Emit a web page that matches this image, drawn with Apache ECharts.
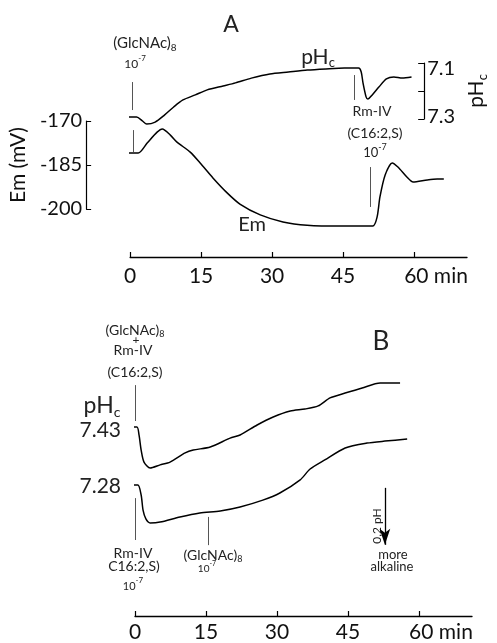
<!DOCTYPE html>
<html><head><meta charset="utf-8">
<script src="https://cdn.jsdelivr.net/npm/echarts@6/dist/echarts.min.js"></script>
<style>html,body{margin:0;padding:0;background:#fff}#c{width:497px;height:643px}</style>
</head><body><div id="c"></div>
<script>
// ---- data ----
const xTicks = [0, 15, 30, 45, 60];
const emTicks = [-200, -185, -170];
const phATicks = [7.1, 7.2, 7.3];

// Panel A: membrane potential Em (mV) vs time (min)
const emTime   = [-2.5, 1.7, 3.6, 5.7, 6.8, 8.5, 9.9, 12.7, 14.8, 17.5, 20.5, 23.2, 27.5, 32.3, 37.4, 44.4, 51.3, 52.2, 52.8, 53.9, 55.4, 56.6, 58.5, 59.8, 62.8, 64.9, 66.3];
const emValues = [-180.9, -180.9, -177.5, -173.8, -172.7, -174.8, -177.2, -180.6, -184.3, -189.4, -194.5, -198.3, -202.0, -204.4, -205.5, -205.8, -205.8, -202.7, -195.9, -188.4, -184.3, -185.7, -189.1, -190.8, -190.1, -189.8, -189.8];

// Panel A: cytoplasmic pH vs time
const phATime   = [-2.8, 1.5, 2.8, 3.8, 5.7, 7.8, 9.9, 12.0, 14.8, 17.5, 21.1, 23.9, 27.5, 31.7, 35.9, 40.2, 44.4, 48.6, 51.8, 52.4, 52.8, 53.5, 53.9, 54.9, 56.4, 58.1, 59.8, 61.7, 63.8];
const phAValues = [7.293, 7.293, 7.307, 7.318, 7.311, 7.286, 7.257, 7.232, 7.214, 7.196, 7.182, 7.171, 7.154, 7.139, 7.132, 7.125, 7.121, 7.118, 7.118, 7.132, 7.171, 7.221, 7.229, 7.214, 7.186, 7.157, 7.150, 7.154, 7.150];

// Panel B: upper trace (baseline 7.43)
const b1Time   = [-2.1, 0.4, 0.85, 1.3, 1.9, 3.2, 5.3, 7.4, 10.6, 12.3, 15.9, 20.1, 22.2, 25.8, 29.2, 32.8, 35.9, 38.7, 41.2, 44.4, 48.0, 51.8, 54.9, 56.0];
const b1Values = [7.430, 7.430, 7.458, 7.511, 7.553, 7.574, 7.563, 7.553, 7.521, 7.511, 7.500, 7.469, 7.458, 7.423, 7.395, 7.374, 7.367, 7.356, 7.328, 7.311, 7.293, 7.276, 7.276, 7.276];
const b1Base = 7.43;

// Panel B: lower trace (baseline 7.28)
const b2Time   = [-1.5, 0.6, 1.3, 1.7, 2.3, 3.2, 5.3, 9.5, 13.7, 18.0, 22.2, 27.0, 30.6, 34.9, 37.0, 40.1, 44.4, 49.0, 52.8, 57.5];
const b2Values = [7.280, 7.280, 7.315, 7.368, 7.399, 7.413, 7.410, 7.392, 7.378, 7.371, 7.357, 7.333, 7.308, 7.262, 7.224, 7.192, 7.150, 7.133, 7.126, 7.119];
const b2Base = 7.28;

// addition markers (time, value range in data units)
const aEmMarks = [[0.6, -173.1, -180.6], [50.8, -185.7, -199.3]];
const aPhMarks = [[0.6, 7.168, 7.268], [50.9, 7.143, 7.232]];
const b1Marks  = [[0, 7.283, 7.409]];
const b2Marks  = [[0, 7.326, 7.473], [15.4, 7.392, 7.491]];
const scaleBar = [52.8, 7.29, 7.49]; // 0.2 pH

// ---- layout ----
const FF = 'Lato, "Liberation Sans", sans-serif';
const FW = 'normal';
const X_MAX = 71.2;
const zip = (a, b) => a.map((v, i) => [v, b[i]]);
const marks = arr => arr.map(m => [{coord: [m[0], m[1]]}, {coord: [m[0], m[2]]}]);
const markStyle = {silent: true, symbol: ['none', 'none'], label: {show: false},
  lineStyle: {color: '#555', width: 1, type: 'solid'}, emphasis: {disabled: true}, data: []};

// B grid geometry: 0.2 pH = 57 px
const bTop = 370, bHeight = 246, pxPerPH = 285;
function bRange(base, baseY) {
  const mn = base - (baseY - bTop) / pxPerPH;
  return [mn, mn + bHeight / pxPerPH];
}
const r1 = bRange(b1Base, 427), r2 = bRange(b2Base, 485);

const xLabelFmt = v => v === 60 ? '{p| }60 min' : String(v);
function xAxisCfg(gridIndex, offset, margin) {
  return {
    type: 'value', gridIndex, min: 0, max: X_MAX, interval: 15, position: 'bottom', offset,
    axisLine: {show: true, onZero: false, lineStyle: {color: '#000', width: 1.3}},
    axisTick: {show: true, inside: true, length: 5, customValues: xTicks, lineStyle: {color: '#000', width: 1.2}},
    axisLabel: {customValues: xTicks, margin, fontSize: 21, fontFamily: FF, fontWeight: FW, color: '#111',
      formatter: xLabelFmt, rich: {p: {width: 44, fontSize: 21}}},
    splitLine: {show: false}
  };
}

const txt = (x, y, text, size, extra) => Object.assign({type: 'text', x, y, silent: true,
  style: Object.assign({text, fontSize: size, fontFamily: FF, fontWeight: FW, fill: '#222', align: 'center', verticalAlign: 'middle'}, extra && extra.style || {})},
  extra && extra.el || {});

const subRich = (a, b) => ({a: {fontSize: a, lineHeight: a + 4, fontFamily: FF, fontWeight: FW}, s: {fontSize: b, lineHeight: b, verticalAlign: 'bottom', fontFamily: FF, fontWeight: FW}});
const supRich = (a, b) => ({a: {fontSize: a, lineHeight: a + 4, fontFamily: FF, fontWeight: FW, verticalAlign: 'bottom'}, s: {fontSize: b, lineHeight: b, verticalAlign: 'top', fontFamily: FF, fontWeight: FW}});

const graphics = [
  txt(231, 25, 'A', 23),
  txt(145, 43, '{a|(GlcNAc)}{s|8}', 15, {style: {rich: subRich(15, 10)}}),
  txt(135, 62, '{a|10}{s|-7}', 12, {style: {rich: supRich(12, 8)}}),
  txt(318, 57, '{a|pH}{s|c}', 20, {style: {rich: subRich(21, 13)}}),
  txt(372, 111, 'Rm-IV', 14),
  txt(375, 133, '(C16:2,S)', 14),
  txt(375, 151, '{a|10}{s|-7}', 13, {style: {rich: supRich(13, 9)}}),
  txt(252, 225, 'Em', 20),
  txt(381, 342, 'B', 26),
  txt(135, 330, '{a|(GlcNAc)}{s|8}', 14, {style: {rich: subRich(14, 9)}}),
  txt(136, 340, '+', 12),
  txt(133, 350, 'Rm-IV', 14),
  txt(135, 372, '(C16:2,S)', 14),
  txt(102, 406, '{a|pH}{s|c}', 22, {style: {rich: subRich(23, 14)}}),
  txt(121, 430, String(b1Base), 21, {style: {align: 'right'}}),
  txt(121, 486, String(b2Base), 21, {style: {align: 'right'}}),
  txt(133, 553, 'Rm-IV', 14),
  txt(134, 566, 'C16:2,S)', 14),
  txt(133, 584, '{a|10}{s|-7}', 11, {style: {rich: supRich(11, 8)}}),
  txt(213, 555, '{a|(GlcNAc)}{s|8}', 14, {style: {rich: subRich(14, 9)}}),
  txt(207, 567, '{a|10}{s|-7}', 10, {style: {rich: supRich(10, 7)}}),
  txt(377, 526, '0,2 pH', 12, {el: {rotation: Math.PI / 2}}),
  txt(393, 555, 'more', 13),
  txt(392, 567, 'alkaline', 13)
];

const traceLine = {color: '#000', width: 1.5};
const option = {
  animation: false,
  backgroundColor: '#fff',
  grid: [
    {left: 130, top: 121, width: 337, height: 88},
    {left: 130, top: 63, width: 337, height: 56},
    {left: 135, top: bTop, width: 337, height: bHeight}
  ],
  xAxis: [
    xAxisCfg(0, 48, 9),
    {type: 'value', gridIndex: 1, min: 0, max: X_MAX, show: false},
    xAxisCfg(2, 0, 6)
  ],
  yAxis: [
    {type: 'value', gridIndex: 0, min: emTicks[0], max: emTicks[2], interval: 15, offset: 44,
      axisLine: {show: true, onZero: false, lineStyle: {color: '#000', width: 1.2}},
      axisTick: {show: true, inside: true, length: 5, lineStyle: {color: '#000'}},
      axisLabel: {margin: 4, fontSize: 20, fontFamily: FF, fontWeight: FW, color: '#111'},
      splitLine: {show: false},
      name: 'Em (mV)', nameLocation: 'middle', nameRotate: 90, nameGap: 52,
      nameTextStyle: {fontSize: 21, fontFamily: FF, fontWeight: FW, color: '#111'}},
    {type: 'value', gridIndex: 1, position: 'right', inverse: true, min: phATicks[0], max: phATicks[2], interval: 0.1, offset: -20,
      axisLine: {show: true, onZero: false, lineStyle: {color: '#000', width: 1.2}},
      axisTick: {show: true, inside: true, length: 6, lineStyle: {color: '#000'}},
      axisLabel: {margin: 3, fontSize: 20, fontFamily: FF, fontWeight: FW, color: '#111',
        formatter: v => Math.abs(v - 7.1) < 1e-6 ? '{t|7.1}' : (Math.abs(v - 7.3) < 1e-6 ? '{b|7.3}' : ''),
        rich: {t: {fontSize: 20, padding: [12, 0, 0, 0], fontFamily: FF, fontWeight: FW},
               b: {fontSize: 20, padding: [0, 0, 4, 0], fontFamily: FF, fontWeight: FW}}},
      splitLine: {show: false},
      name: '{a|pH}{s|c}', nameLocation: 'middle', nameRotate: 90, nameGap: 33,
      nameTextStyle: {color: '#111', rich: subRich(21, 13)}},
    {type: 'value', gridIndex: 2, inverse: true, min: r1[0], max: r1[1], show: false},
    {type: 'value', gridIndex: 2, inverse: true, min: r2[0], max: r2[1], show: false}
  ],
  series: [
    {type: 'line', xAxisIndex: 0, yAxisIndex: 0, data: zip(emTime, emValues), showSymbol: false, symbol: 'none',
      smooth: 0.25, clip: false, lineStyle: traceLine,
      markLine: Object.assign({}, markStyle, {data: marks(aEmMarks)})},
    {type: 'line', xAxisIndex: 1, yAxisIndex: 1, data: zip(phATime, phAValues), showSymbol: false, symbol: 'none',
      smooth: 0.25, clip: false, lineStyle: traceLine,
      markLine: Object.assign({}, markStyle, {data: marks(aPhMarks)})},
    {type: 'line', xAxisIndex: 2, yAxisIndex: 2, data: zip(b1Time, b1Values), showSymbol: false, symbol: 'none',
      smooth: 0.25, clip: false, lineStyle: traceLine,
      markLine: Object.assign({}, markStyle, {data: marks(b1Marks)})},
    {type: 'line', xAxisIndex: 2, yAxisIndex: 3, data: zip(b2Time, b2Values), showSymbol: false, symbol: 'none',
      smooth: 0.25, clip: false, lineStyle: traceLine,
      markLine: Object.assign({}, markStyle, {data: marks(b2Marks)})},
    {type: 'line', xAxisIndex: 2, yAxisIndex: 3, data: [], showSymbol: false, symbol: 'none',
      markLine: {silent: true, symbol: ['none', 'arrow'], symbolSize: [8, 16], label: {show: false},
        lineStyle: {color: '#000', width: 1.3, type: 'solid'},
        data: [[{coord: [scaleBar[0], scaleBar[1]]}, {coord: [scaleBar[0], scaleBar[2]]}]]}}
  ],
  graphic: graphics
};
const chart = echarts.init(document.getElementById('c'), null, {renderer: 'canvas'});
chart.setOption(option);
</script></body></html>
